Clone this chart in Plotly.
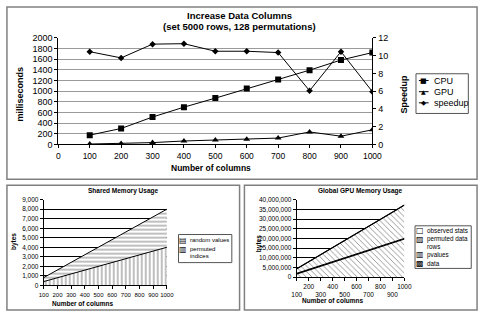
import plotly.graph_objects as go

W, H = 489, 317
def px(x): return x / W
def py(y): return 1 - y / H

FONT = "Liberation Sans, Arial, sans-serif"

# ---------------- data ----------------
columns = [100, 200, 300, 400, 500, 600, 700, 800, 900, 1000]
cpu_ms = [175, 300, 515, 700, 870, 1050, 1220, 1395, 1585, 1725]
gpu_ms = [8, 20, 35, 65, 85, 100, 120, 235, 155, 275]
speedup = [10.45, 9.75, 11.3, 11.35, 10.5, 10.5, 10.35, 6.05, 10.45, 5.95]

shared_permuted_indices = [400, 800, 1200, 1600, 2000, 2400, 2800, 3200, 3600, 4000]
shared_random_values = [420, 810, 1200, 1600, 2000, 2400, 2800, 3200, 3600, 4000]

gpu_data = [2.0e6, 4.0e6, 6.0e6, 8.0e6, 10.0e6, 12.0e6, 14.0e6, 16.0e6, 18.0e6, 20.0e6]
gpu_pvalues = [400, 800, 1200, 1600, 2000, 2400, 2800, 3200, 3600, 4000]
gpu_permuted_rows = [2.3e6, 3.9e6, 5.6e6, 7.2e6, 8.9e6, 10.5e6, 12.2e6, 13.9e6, 15.5e6, 17.2e6]
gpu_observed_stats = [400, 800, 1200, 1600, 2000, 2400, 2800, 3200, 3600, 4000]

x_ticks_top = [0, 100, 200, 300, 400, 500, 600, 700, 800, 900, 1000]
x_ticktext_gpu = ["<br>100", "200", "<br>300", "400", "<br>500", "600", "<br>700", "800", "<br>900", "1000"]

fig = go.Figure()

# ---------------- top chart ----------------
fig.add_trace(go.Scatter(x=columns, y=cpu_ms, mode="lines+markers", name="CPU",
                         line=dict(color="black", width=1),
                         marker=dict(symbol="square", size=6, color="black"),
                         xaxis="x", yaxis="y", showlegend=False))
fig.add_trace(go.Scatter(x=columns, y=gpu_ms, mode="lines+markers", name="GPU",
                         line=dict(color="black", width=1),
                         marker=dict(symbol="triangle-up", size=6, color="black"),
                         xaxis="x", yaxis="y", showlegend=False))
fig.add_trace(go.Scatter(x=columns, y=speedup, mode="lines+markers", name="speedup",
                         line=dict(color="black", width=1),
                         marker=dict(symbol="diamond", size=5, color="black"),
                         xaxis="x", yaxis="y2", showlegend=False))

# ---------------- bottom-left: shared memory ----------------
fig.add_trace(go.Scatter(x=columns, y=shared_permuted_indices, name="permuted indices",
                         stackgroup="shared", mode="lines",
                         line=dict(color="black", width=1),
                         fillcolor="white",
                         fillpattern=dict(shape="|", fgcolor="black", bgcolor="white", size=4, solidity=0.25),
                         xaxis="x3", yaxis="y3", showlegend=False))
fig.add_trace(go.Scatter(x=columns, y=shared_random_values, name="random values",
                         stackgroup="shared", mode="lines",
                         line=dict(color="black", width=1),
                         fillcolor="white",
                         fillpattern=dict(shape="-", fgcolor="black", bgcolor="white", size=4, solidity=0.25),
                         xaxis="x3", yaxis="y3", showlegend=False))

# ---------------- bottom-right: global GPU memory ----------------
fig.add_trace(go.Scatter(x=columns, y=gpu_data, name="data",
                         stackgroup="gpu", mode="lines",
                         line=dict(color="black", width=2.5),
                         fillcolor="white",
                         fillpattern=dict(shape="\\", fgcolor="black", bgcolor="white", size=4, solidity=0.2),
                         xaxis="x4", yaxis="y4", showlegend=False))
fig.add_trace(go.Scatter(x=columns, y=gpu_pvalues, name="pvalues",
                         stackgroup="gpu", mode="lines",
                         line=dict(color="black", width=1),
                         fillcolor="white",
                         fillpattern=dict(shape="|", fgcolor="black", bgcolor="white", size=4, solidity=0.25),
                         xaxis="x4", yaxis="y4", showlegend=False))
fig.add_trace(go.Scatter(x=columns, y=gpu_permuted_rows, name="permuted data rows",
                         stackgroup="gpu", mode="lines",
                         line=dict(color="black", width=1),
                         fillcolor="white",
                         fillpattern=dict(shape="\\", fgcolor="black", bgcolor="white", size=4, solidity=0.2),
                         xaxis="x4", yaxis="y4", showlegend=False))
fig.add_trace(go.Scatter(x=columns, y=gpu_observed_stats, name="observed stats",
                         stackgroup="gpu", mode="lines",
                         line=dict(color="black", width=1.2),
                         fillcolor="white",
                         xaxis="x4", yaxis="y4", showlegend=False))

axis_common = dict(showline=True, linecolor="black", linewidth=1, ticks="outside",
                   ticklen=3, tickcolor="black", zeroline=False, tickangle=0)

fig.update_layout(
    width=W, height=H,
    margin=dict(l=0, r=0, t=0, b=0),
    paper_bgcolor="white", plot_bgcolor="white",
    font=dict(family=FONT, color="black"),
    showlegend=False,
    xaxis=dict(domain=[px(55), px(379)], anchor="y", range=[0, 1000],
               tickvals=x_ticks_top, tickfont=dict(size=8.5), showgrid=False, **axis_common),
    yaxis=dict(domain=[py(144), py(34)], anchor="x", range=[0, 2000], dtick=200,
               tickfont=dict(size=9), showgrid=True, gridcolor="#9a9a9a", gridwidth=1.3,
               **axis_common),
    yaxis2=dict(overlaying="y", side="right", anchor="x", range=[0, 12], dtick=2,
                tickfont=dict(size=9), showgrid=False, **axis_common),
    xaxis3=dict(domain=[px(40), px(167)], anchor="y3", range=[100, 1000],
                tickvals=columns, tickfont=dict(size=6), showgrid=False, **axis_common),
    yaxis3=dict(domain=[py(289.5), py(201)], anchor="x3", range=[0, 9000], dtick=1000,
                tickformat=",d", tickfont=dict(size=6.5), showgrid=True, gridcolor="black",
                gridwidth=1, **axis_common),
    xaxis4=dict(domain=[px(301), px(412)], anchor="y4", range=[100, 1000],
                tickvals=columns, ticktext=x_ticktext_gpu,
                tickfont=dict(size=6.5), showgrid=False, **axis_common),
    yaxis4=dict(domain=[py(281), py(201)], anchor="x4", range=[0, 40e6], dtick=5e6,
                tickformat=",d", tickfont=dict(size=6.5), showgrid=True, gridcolor="black",
                gridwidth=1, **axis_common),
)

shapes = []
def rect(x0, y0, x1, y1, color="#808080", width=1.5):
    shapes.append(dict(type="rect", xref="paper", yref="paper",
                       x0=px(x0), x1=px(x1), y0=py(y1), y1=py(y0),
                       line=dict(color=color, width=width), fillcolor="rgba(0,0,0,0)", layer="above"))

# panel borders
rect(2, 2, 487, 180)
rect(2, 186, 242, 315)
rect(247, 186, 487, 315)
# legend boxes
rect(424, 71, 478, 112, color="#555", width=1)
rect(179, 237, 234, 266, color="#555", width=1)
rect(423, 228, 481, 272, color="#555", width=1)

annotations = []
def text(x, y, t, size, bold=False, xanchor="center", angle=0, family=FONT):
    annotations.append(dict(xref="paper", yref="paper", x=px(x), y=py(y),
                            text=f"<b>{t}</b>" if bold else t, showarrow=False,
                            xanchor=xanchor, yanchor="middle", textangle=angle,
                            font=dict(size=size, family=family, color="black")))

# top chart texts
text(242, 11, "Increase Data Columns", 9.5, bold=True)
text(242, 22, "(set 5000 rows, 128 permutations)", 9.5, bold=True)
text(16, 92, "milliseconds", 9, bold=True, angle=-90)
text(412, 92, "Speedup", 9, bold=True, angle=-90)
text(213, 168, "Number of columns", 8.5, bold=True)

# top legend
leg_items = [("CPU", "■", 78, 7), ("GPU", "▲", 89.5, 6), ("speedup", "◆", 101, 6.5)]
for name, sym, yy, ssize in leg_items:
    shapes.append(dict(type="line", xref="paper", yref="paper",
                       x0=px(427), x1=px(437), y0=py(yy), y1=py(yy),
                       line=dict(color="black", width=1)))
    text(432, yy, sym, ssize, family="DejaVu Sans")
    text(440, yy, name, 9, xanchor="left")

# bottom-left texts
text(122, 192, "Shared Memory Usage", 6.5, bold=True)
text(10, 244, "bytes", 6.5, bold=True, angle=-90)
text(80, 308, "Number of columns", 6.5, bold=True)
text(184, 243, "▤", 8, family="DejaVu Sans")
text(188.5, 243, "random values", 6, xanchor="left")
text(184, 252, "▥", 8, family="DejaVu Sans")
text(188.5, 252, "permuted", 6, xanchor="left")
text(188.5, 259.5, "indices", 6, xanchor="left")

# bottom-right texts
text(367, 192, "Global GPU Memory Usage", 6.5, bold=True)
text(262, 246, "bytes", 6.5, bold=True, angle=-90)
text(338, 305, "Number of columns", 6.5, bold=True)
text(428, 233, "□", 8, family="DejaVu Sans")
text(433, 233, "observed stats", 6.3, xanchor="left")
text(428, 242, "▨", 8, family="DejaVu Sans")
text(433, 242, "permuted data", 6.3, xanchor="left")
text(433, 249, "rows", 6.3, xanchor="left")
text(428, 258, "▥", 8, family="DejaVu Sans")
text(433, 258, "pvalues", 6.3, xanchor="left")
text(428, 267, "▩", 8, family="DejaVu Sans")
text(433, 267, "data", 6.3, xanchor="left")

fig.update_layout(shapes=shapes, annotations=annotations)
fig.write_html("out.html")
